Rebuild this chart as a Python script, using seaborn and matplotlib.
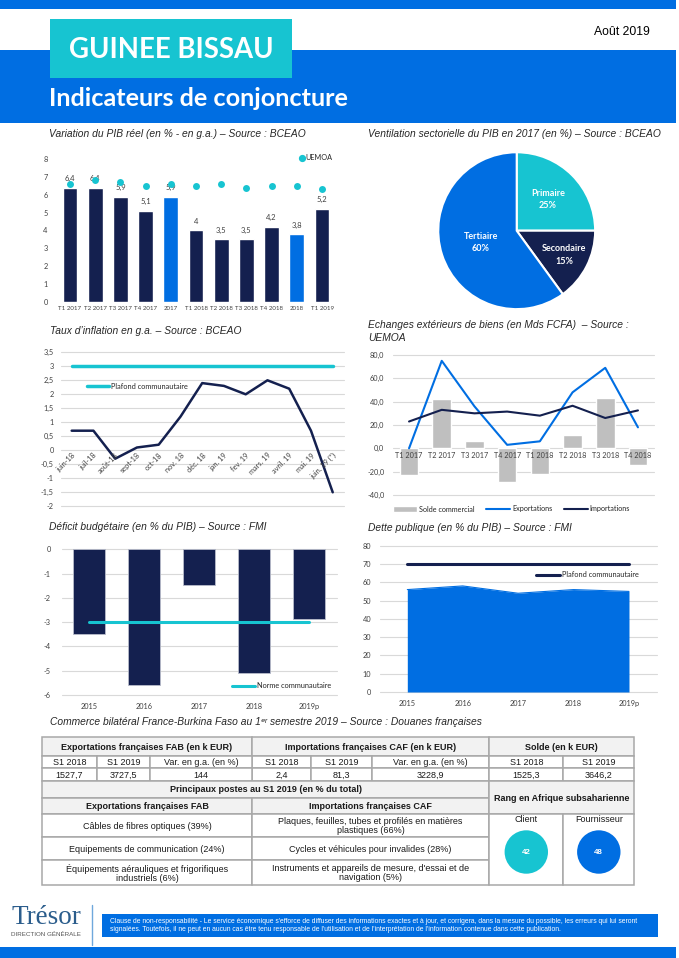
import numpy as np
import pandas as pd
import matplotlib
matplotlib.use("Agg")
import matplotlib.pyplot as plt
import seaborn as sns
from matplotlib.patches import Rectangle, Circle, Patch
from matplotlib.lines import Line2D

W, H = 679, 958

NAVY = "#14204f"
BLUE = "#006ee2"
TEAL = "#17c4d1"
GREY_BAR = "#bfbfbf"
GRID = "#d9d9d9"
TICK = "#404040"
BORDER = "#a8a8a8"
HEAD_FILL = "#f2f2f2"
TITLE_C = "#262626"

# ---- data -------------------------------------------------------------
pib_labels = ["T1 2017", "T2 2017", "T3 2017", "T4 2017", "2017",
              "T1 2018", "T2 2018", "T3 2018", "T4 2018", "2018", "T1 2019"]
pib_values = [6.4, 6.4, 5.9, 5.1, 5.9, 4.0, 3.5, 3.5, 4.2, 3.8, 5.2]
pib_kind = ["Trim", "Trim", "Trim", "Trim", "Annuel",
            "Trim", "Trim", "Trim", "Trim", "Annuel", "Trim"]
uemoa_values = [6.6, 6.8, 6.7, 6.5, 6.6, 6.5, 6.6, 6.4, 6.5, 6.5, 6.3]

sect_labels = ["Primaire", "Secondaire", "Tertiaire"]
sect_values = [25, 15, 60]

infl_labels = ["juin-18", "juil-18", "août-18", "sept-18", "oct-18", "nov. 18",
               "déc. 18", "jan. 19", "fev. 19", "mars. 19", "avril. 19",
               "mai. 19", "juin. 19 (*)"]
infl_values = [0.7, 0.7, -0.3, 0.1, 0.2, 1.2, 2.4, 2.3, 2.0, 2.5, 2.2, 0.7, -1.5]
infl_plafond = 3.0

trade_labels = ["T1 2017", "T2 2017", "T3 2017", "T4 2017",
                "T1 2018", "T2 2018", "T3 2018", "T4 2018"]
trade_solde = [-23, 42, 6, -28.5, -22, 11.5, 43, -14.5]
trade_exports = [0, 75, 36, 3, 6, 48, 69, 18]
trade_imports = [23, 33, 30, 31.5, 28, 36.5, 26, 32.5]

budget_years = ["2015", "2016", "2017", "2018", "2019p"]
budget_values = [-3.5, -5.6, -1.45, -5.1, -2.85]
budget_norme = -3.0

debt_years = ["2015", "2016", "2017", "2018", "2019p"]
debt_values = [56, 58, 54, 56, 55]
debt_plafond = 70

tab_periods = ["S1 2018", "S1 2019", "Var. en g.a. (en %)"]
tab_exports = ["1527,7", "3727,5", "144"]
tab_imports = ["2,4", "81,3", "3228,9"]
tab_solde = ["1525,3", "3646,2"]
postes_exports = ["Câbles de fibres optiques (39%)",
                  "Equipements de communication (24%)",
                  "Équipements aérauliques et frigorifiques\nindustriels (6%)"]
postes_imports = ["Plaques, feuilles, tubes et profilés en matières\nplastiques (66%)",
                  "Cycles et véhicules pour invalides (28%)",
                  "Instruments et appareils de mesure, d'essai et de\nnavigation (5%)"]
rang_labels = ["Client", "Fournisseur"]
rang_values = [42, 48]

# ---- figure -----------------------------------------------------------
sns.set_style("white")
plt.rcParams["font.family"] = ["Liberation Sans", "DejaVu Sans"]
TICKFONT = "Lato"

fig = plt.figure(figsize=(W / 100, H / 100), dpi=100)
bg = fig.add_axes([0, 0, 1, 1])
bg.set_xlim(0, W)
bg.set_ylim(H, 0)
bg.axis("off")


def px_axes(x0, y0, x1, y1):
    return fig.add_axes([x0 / W, 1 - y1 / H, (x1 - x0) / W, (y1 - y0) / H])


def fr(v, fmt="{:g}"):
    return fmt.format(v).replace(".", ",")


def style_axes(ax, yticks, ylabels, grid=True):
    ax.set_yticks(yticks)
    ax.set_yticklabels(ylabels)
    for s in ax.spines.values():
        s.set_visible(False)
    ax.tick_params(length=0, labelsize=5.3, labelcolor=TICK,
                   labelfontfamily=TICKFONT)
    ax.set_xlabel("")
    ax.set_ylabel("")
    ax.set_facecolor("none")
    ax.set_axisbelow(False)
    if grid:
        for y in yticks:
            ax.axhline(y, color=GRID, lw=0.8, zorder=0.5, clip_on=False)


def title(x, y, txt):
    bg.text(x, y, txt, fontsize=7.4, style="italic", color=TITLE_C,
            ha="left", va="center")


# ---- header ------------------------------------------------------------
bg.add_patch(Rectangle((0, 0), 676, 9.3, color=BLUE, lw=0))
bg.add_patch(Rectangle((0, 50), 676, 73, color=BLUE, lw=0))
bg.add_patch(Rectangle((50, 19), 242, 58.7, color=TEAL, lw=0))
bg.text(171, 50, "GUINEE BISSAU", color="white", fontsize=19.8,
        fontweight="bold", family="Lato", ha="center", va="center")
bg.text(49, 98, "Indicateurs de conjoncture", color="white", fontsize=18.2,
        fontweight="bold", family="Lato", ha="left", va="center")
bg.text(650, 31.5, "Août 2019", fontsize=8.8, color="black",
        ha="right", va="center")

# ---- PIB bars ----------------------------------------------------------
title(49, 134, "Variation du PIB réel (en % - en g.a.) – Source : BCEAO")
ax = px_axes(57.4, 159, 334.6, 302)
df_pib = pd.DataFrame({"periode": pib_labels, "pib": pib_values, "type": pib_kind})
sns.barplot(data=df_pib, x="periode", y="pib", hue="type",
            palette={"Trim": NAVY, "Annuel": BLUE}, dodge=False, width=0.58,
            saturation=1, legend=False, ax=ax)
for c in ax.containers:
    ax.bar_label(c, labels=[fr(v) for v in c.datavalues], padding=4,
                 fontsize=5.5, color=TICK, family=TICKFONT)
sns.stripplot(x=pib_labels, y=uemoa_values, jitter=False, color=TEAL,
              size=5, linewidth=0, ax=ax, zorder=4)
ax.set_xlim(-0.5, len(pib_labels) - 0.5)
ax.set_ylim(0, 8)
style_axes(ax, range(0, 9), [str(v) for v in range(0, 9)], grid=False)
ax.tick_params(axis="y", pad=7)
ax.tick_params(axis="x", labelsize=4.4, pad=3)
ax.legend(handles=[Line2D([], [], marker="o", ls="", color=TEAL, markersize=4.2)],
          labels=["UEMOA"], loc="center left", bbox_to_anchor=(0.855, 1.01),
          frameon=False, handletextpad=0.0, borderpad=0, handlelength=1,
          prop=dict(family=TICKFONT, size=5.2))

# ---- pie ---------------------------------------------------------------
title(368, 134, "Ventilation sectorielle du PIB en 2017 (en %) – Source : BCEAO")
ax = px_axes(436.7, 150.7, 596.7, 310.7)
wedges, texts = ax.pie(sect_values, colors=[TEAL, NAVY, BLUE], startangle=90,
                       counterclock=False, labeldistance=0.6,
                       labels=[f"{l}\n{v}%" for l, v in zip(sect_labels, sect_values)],
                       wedgeprops=dict(edgecolor="white", linewidth=1.5),
                       textprops=dict(color="white", fontweight="bold",
                                      fontsize=6.5, family="Lato"))
for t, d in zip(texts, [0.56, 0.68, 0.48]):
    x, y = t.get_position()
    t.set_position((x * d / 0.6, y * d / 0.6))
    t.set_ha("center")
    t.set_va("center")
    t.set_linespacing(1.5)
ax.set_xlim(-1.02, 1.02)
ax.set_ylim(-1.02, 1.02)

# ---- inflation ---------------------------------------------------------
title(50, 331, "Taux d’inflation en g.a. – Source : BCEAO")
ax = px_axes(60.8, 352.3, 343.6, 506.3)
idx = np.arange(len(infl_labels))
sns.lineplot(x=idx, y=[infl_plafond] * len(idx), color=TEAL, lw=2.5, ax=ax)
sns.lineplot(x=idx, y=infl_values, color=NAVY, lw=1.8, ax=ax)
ax.set_xlim(-0.5, len(idx) - 0.5)
ax.set_ylim(-2, 3.5)
yt = np.arange(-2, 3.51, 0.5)
style_axes(ax, yt, [fr(round(v, 1)) for v in yt])
ax.tick_params(axis="y", pad=5)
ax.spines["bottom"].set_position(("data", 0))
ax.set_xticks(idx)
ax.set_xticklabels(infl_labels, rotation=45, ha="right", rotation_mode="anchor")
ax.tick_params(axis="x", pad=1, labelsize=5.3)
ax.legend(handles=[Line2D([], [], color=TEAL, lw=2.5)],
          labels=["Plafond communautaire"], loc="center left",
          bbox_to_anchor=(0.078, 0.781), frameon=False, borderpad=0,
          handlelength=3.0, handletextpad=0.3,
          prop=dict(family=TICKFONT, size=5.3))

# ---- trade -------------------------------------------------------------
title(368, 325, "Echanges extérieurs de biens (en Mds FCFA)  – Source :")
title(368, 338, "UEMOA")
ax = px_axes(392.7, 355, 654.3, 495)
sns.barplot(x=trade_labels, y=trade_solde, color=GREY_BAR, width=0.57,
            saturation=1, ax=ax)
tidx = np.arange(len(trade_labels))
sns.lineplot(x=tidx, y=trade_exports, color=BLUE, lw=1.5, ax=ax)
sns.lineplot(x=tidx, y=trade_imports, color=NAVY, lw=1.5, ax=ax)
ax.set_xlim(-0.5, len(tidx) - 0.5)
ax.set_ylim(-40, 80)
yt = np.arange(-40, 81, 20)
style_axes(ax, yt, [fr(v, "{:.1f}") for v in yt])
ax.tick_params(axis="y", pad=6)
ax.spines["bottom"].set_position(("data", 0))
ax.set_xticks(tidx)
ax.set_xticklabels(trade_labels)
ax.tick_params(axis="x", pad=3, labelsize=5.2)
ax.legend(handles=[Patch(facecolor=GREY_BAR),
                   Line2D([], [], color=BLUE, lw=1.5),
                   Line2D([], [], color=NAVY, lw=1.5)],
          labels=["Solde commercial", "Exportations", "Importations"],
          ncol=3, loc="center left", bbox_to_anchor=(0.0, -0.1), frameon=False,
          borderpad=0, borderaxespad=0, handlelength=3.3, handleheight=1.0,
          handletextpad=0.3, columnspacing=1.6,
          prop=dict(family=TICKFONT, size=5.2))

# ---- budget deficit ----------------------------------------------------
title(49, 527, "Déficit budgétaire (en % du PIB) – Source : FMI")
ax = px_axes(61.8, 549.3, 336.5, 695)
sns.barplot(x=budget_years, y=budget_values, color=NAVY, width=0.58,
            saturation=1, edgecolor="#b8bccb", linewidth=0.6, ax=ax, zorder=2)
bidx = np.arange(len(budget_years))
sns.lineplot(x=bidx, y=[budget_norme] * len(bidx), color=TEAL, lw=2.2, ax=ax,
             zorder=3)
ax.set_xlim(-0.5, len(bidx) - 0.5)
ax.set_ylim(-6, 0)
yt = np.arange(-6, 1, 1)
style_axes(ax, yt, [str(v) for v in yt])
ax.tick_params(axis="y", pad=8)
ax.tick_params(axis="x", pad=6)
ax.legend(handles=[Line2D([], [], color=TEAL, lw=2.2)],
          labels=["Norme communautaire"], loc="center left",
          bbox_to_anchor=(0.605, 0.064), frameon=False, borderpad=0,
          handlelength=3.2, handletextpad=0.3,
          prop=dict(family=TICKFONT, size=5.3))

# ---- public debt -------------------------------------------------------
title(368, 528, "Dette publique (en % du PIB) – Source : FMI")
ax = px_axes(379.6, 545.7, 656.7, 692)
didx = np.arange(len(debt_years))
ax.fill_between(didx, debt_values, color=BLUE, lw=0, zorder=2)
sns.lineplot(x=didx, y=debt_values, color=BLUE, lw=0.8, ax=ax, zorder=2)
sns.lineplot(x=didx, y=[debt_plafond] * len(didx), color=NAVY, lw=2.2, ax=ax,
             zorder=3)
ax.set_xlim(-0.5, len(didx) - 0.5)
ax.set_ylim(0, 80)
yt = np.arange(0, 81, 10)
style_axes(ax, yt, [str(v) for v in yt])
ax.tick_params(axis="y", pad=6)
ax.set_xticks(didx)
ax.set_xticklabels(debt_years)
ax.tick_params(axis="x", pad=6)
ax.legend(handles=[Line2D([], [], color=NAVY, lw=2.2)],
          labels=["Plafond communautaire"], loc="center left",
          bbox_to_anchor=(0.5525, 0.8), frameon=False, borderpad=0,
          handlelength=3.2, handletextpad=0.3,
          prop=dict(family=TICKFONT, size=5.3))

# ---- table -------------------------------------------------------------
title(50, 722, "Commerce bilatéral France-Burkina Faso au 1ᵉʳ semestre 2019 – "
               "Source : Douanes françaises")
C = [42.3, 96.7, 150, 251.7, 311, 371.7, 489.3, 563.3, 634.3]
R = [737, 756.3, 768, 781, 798, 814.3, 837, 860.3, 885.3]
TAB_FS = 6.5


def cell(x0, y0, x1, y1, text="", bold=False, fill="white"):
    bg.add_patch(Rectangle((x0, y0), x1 - x0, y1 - y0, facecolor=fill,
                           edgecolor=BORDER, lw=1.1))
    if text:
        bg.text((x0 + x1) / 2, (y0 + y1) / 2 + 0.5, text, ha="center",
                va="center", fontsize=TAB_FS, color="#1a1a1a", linespacing=1.0,
                fontweight="bold" if bold else "normal")


cell(C[0], R[0], C[3], R[1], "Exportations françaises FAB (en k EUR)", True, HEAD_FILL)
cell(C[3], R[0], C[6], R[1], "Importations françaises CAF (en k EUR)", True, HEAD_FILL)
cell(C[6], R[0], C[8], R[1], "Solde (en k EUR)", True, HEAD_FILL)
for i in range(3):
    cell(C[i], R[1], C[i + 1], R[2], tab_periods[i])
    cell(C[i + 3], R[1], C[i + 4], R[2], tab_periods[i])
    cell(C[i], R[2], C[i + 1], R[3], tab_exports[i])
    cell(C[i + 3], R[2], C[i + 4], R[3], tab_imports[i])
for i in range(2):
    cell(C[i + 6], R[1], C[i + 7], R[2], tab_periods[i])
    cell(C[i + 6], R[2], C[i + 7], R[3], tab_solde[i])
cell(C[0], R[3], C[6], R[4], "Principaux postes au S1 2019 (en % du total)", True, HEAD_FILL)
cell(C[0], R[4], C[3], R[5], "Exportations françaises FAB", True, HEAD_FILL)
cell(C[3], R[4], C[6], R[5], "Importations françaises CAF", True, HEAD_FILL)
cell(C[6], R[3], C[8], R[5], "Rang en Afrique subsaharienne", True, HEAD_FILL)
for i in range(3):
    cell(C[0], R[5 + i], C[3], R[6 + i], postes_exports[i])
    cell(C[3], R[5 + i], C[6], R[6 + i], postes_imports[i])
for i, (lab, val, col) in enumerate(zip(rang_labels, rang_values, [TEAL, BLUE])):
    x0, x1 = C[6 + i], C[7 + i]
    cell(x0, R[5], x1, R[8])
    cx = (x0 + x1) / 2
    bg.text(cx, 820, lab, ha="center", va="center", fontsize=TAB_FS,
            color="#1a1a1a")
    bg.add_patch(Circle((cx, 852), 21.7, color=col, lw=0))
    bg.text(cx, 852.5, str(val), ha="center", va="center", fontsize=5.8,
            fontweight="bold", color="white")

# ---- footer ------------------------------------------------------------
bg.add_patch(Rectangle((101.7, 914), 556.3, 22.7, color=BLUE, lw=0))
bg.text(110, 921.3, "Clause de non-responsabilité - Le service économique s'efforce "
        "de diffuser des informations exactes et à jour, et corrigera, dans la mesure "
        "du possible, les erreurs qui lui seront", fontsize=4.85, color="white",
        va="center")
bg.text(110, 929.7, "signalées. Toutefois, il ne peut en aucun cas être tenu "
        "responsable de l'utilisation et de l'interprétation de l'information "
        "contenue dans cette publication.", fontsize=4.85, color="white",
        va="center")
bg.add_patch(Rectangle((0, 946.7), 676, 11.3, color=BLUE, lw=0))
bg.plot([92.3, 92.3], [905, 945], color="#6fa8dc", lw=1)
bg.text(46, 917, "Trésor", family="Liberation Serif", fontsize=19.5,
        color="#2b5d8c", ha="center", va="center")
bg.text(46, 934, "DIRECTION GÉNÉRALE", fontsize=4.5, color="#555555",
        ha="center", va="center")

fig.savefig("out.png", dpi=100)
